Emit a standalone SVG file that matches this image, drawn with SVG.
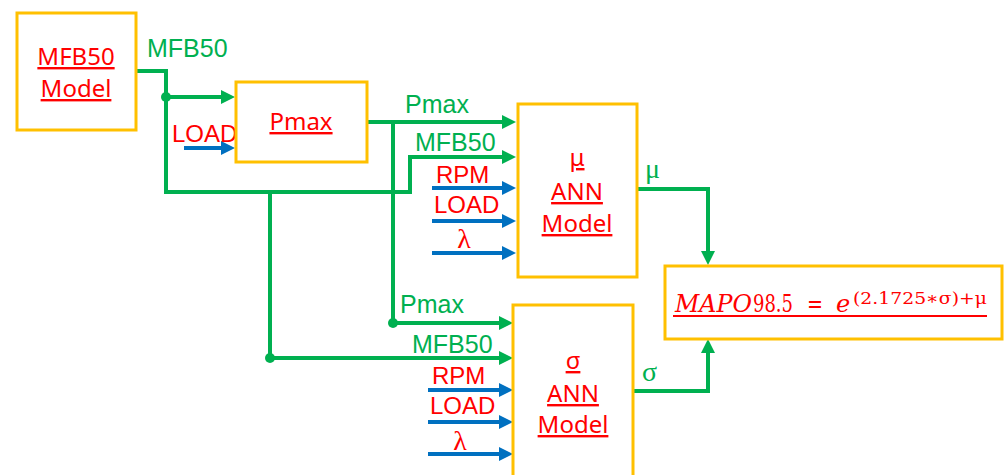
<svg xmlns="http://www.w3.org/2000/svg" width="1004" height="475" viewBox="0 0 1004 475">
<style>
.box{fill:#fff;stroke:#FFC000;stroke-width:3}
.g{fill:none;stroke:#00B050;stroke-width:4}
.b{fill:none;stroke:#0070C0;stroke-width:4}
.ga{marker-end:url(#ag)}
.ba{marker-end:url(#ab)}
.lg{font-family:"Liberation Sans",Arial,sans-serif;font-size:25px;fill:#00B050}
.lr{font-family:"Liberation Sans",Arial,sans-serif;font-size:24px;fill:#FF0000}
.gk{font-family:"Liberation Serif","DejaVu Serif",serif;font-size:28px}
.bt{font-family:"Noto Sans","Open Sans",sans-serif;font-size:24px;fill:#FF0000;text-anchor:middle;text-decoration:underline}
.dot{fill:#00B050}
</style>
<defs>
<marker id="ag" markerUnits="userSpaceOnUse" markerWidth="14" markerHeight="14" refX="4" refY="7" orient="auto"><path d="M0,0 L14,7 L0,14 z" fill="#00B050"/></marker>
<marker id="ab" markerUnits="userSpaceOnUse" markerWidth="14" markerHeight="14" refX="4" refY="7" orient="auto"><path d="M0,0 L14,7 L0,14 z" fill="#0070C0"/></marker>
</defs>
<rect width="1004" height="475" fill="#fff"/>
<g id="connectors">
<path class="g ga" d="M136,71 H166 V192 H410 V157 H506"/>
<path class="g ga" d="M166,97 H225"/>
<path class="g ga" d="M270,192 V358 H503"/>
<path class="g ga" d="M367,122 H506"/>
<path class="g ga" d="M393,122 V323 H503"/>
<path class="g ga" d="M637,189 H708 V255"/>
<path class="g ga" d="M633,391 H708 V349"/>
<circle class="dot" cx="166" cy="97" r="5"/>
<circle class="dot" cx="393" cy="323" r="5"/>
<circle class="dot" cx="270" cy="358" r="5"/>
<path class="b ba" d="M184,148 H225"/>
<path class="b ba" d="M432,188 H506"/>
<path class="b ba" d="M432,221 H506"/>
<path class="b ba" d="M432,253 H506"/>
<path class="b ba" d="M428,390 H503"/>
<path class="b ba" d="M428,422 H503"/>
<path class="b ba" d="M428,454 H503"/>
<text class="lg" x="147" y="57">MFB50</text>
<text class="lr" x="172" y="142">LOAD</text>
<text class="lg" x="405" y="113">Pmax</text>
<text class="lg" x="415" y="151">MFB50</text>
<text class="lr" x="436" y="183">RPM</text>
<text class="lr" x="434" y="213">LOAD</text>
<text class="gk" x="464" y="248" fill="#FF0000" text-anchor="middle" font-size="21">λ</text>
<text class="lg" x="400" y="313">Pmax</text>
<text class="lg" x="412" y="353">MFB50</text>
<text class="lr" x="432" y="384">RPM</text>
<text class="lr" x="430" y="414">LOAD</text>
<text class="gk" x="460" y="450" fill="#FF0000" text-anchor="middle" font-size="21">λ</text>
<text class="gk" x="645" y="178" fill="#00B050">μ</text>
<text class="gk" x="642" y="381" fill="#00B050">σ</text>
</g>
<g id="mfb50-model">
<rect class="box" x="17" y="13" width="119" height="117"/>
<text class="bt" x="76" y="65">MFB50</text>
<text class="bt" x="76" y="97">Model</text>
</g>
<g id="pmax">
<rect class="box" x="236" y="82" width="131" height="80"/>
<text class="bt" x="301" y="130">Pmax</text>
</g>
<g id="mu-ann">
<rect class="box" x="518" y="104" width="119" height="173"/>
<text class="gk bt" x="577" y="166">μ</text>
<text class="bt" x="577" y="200">ANN</text>
<text class="bt" x="577" y="232">Model</text>
</g>
<g id="sigma-ann">
<rect class="box" x="513" y="305" width="120" height="180"/>
<text class="gk bt" x="573" y="369">σ</text>
<text class="bt" x="573" y="402">ANN</text>
<text class="bt" x="573" y="433">Model</text>
</g>
<g id="map">
<rect class="box" x="665" y="266" width="337" height="73"/>
<g font-family="'DejaVu Serif','Liberation Serif',serif" fill="#FF0000">
<text x="675" y="312" font-size="24" font-style="italic" textLength="77" lengthAdjust="spacingAndGlyphs">MAPO</text>
<text x="753" y="312" font-size="24" textLength="40" lengthAdjust="spacingAndGlyphs">98.5</text>
<text x="807" y="312" font-size="24" textLength="16" lengthAdjust="spacingAndGlyphs">=</text>
<text x="836" y="312" font-size="24" font-style="italic">e</text>
<text x="853" y="304" font-size="17" textLength="134" lengthAdjust="spacingAndGlyphs">(2.1725∗σ)+μ</text>
</g>
<line x1="673" y1="316" x2="987" y2="316" stroke="#FF0000" stroke-width="2"/>
</g>
</svg>
